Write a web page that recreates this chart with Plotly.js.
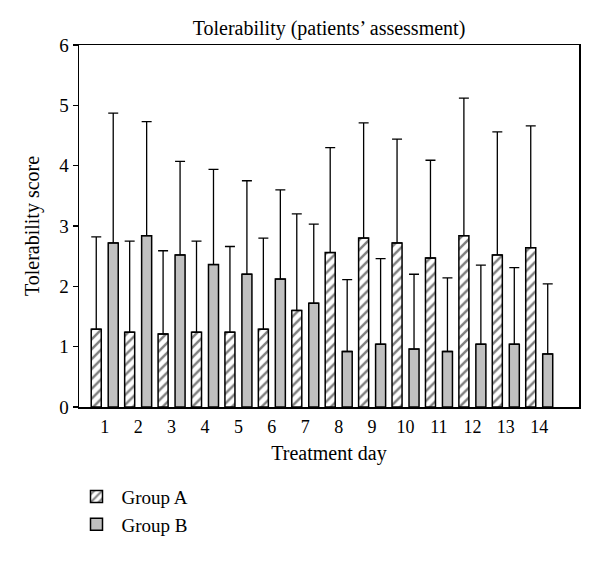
<!DOCTYPE html>
<html>
<head>
<meta charset="utf-8">
<script src="https://cdn.plot.ly/plotly-3.0.1.min.js"></script>
<style>html,body{margin:0;padding:0;background:#fff;}#chart{width:600px;height:563px;}</style>
</head>
<body>
<div id="chart"></div>
<script>
const days = [1,2,3,4,5,6,7,8,9,10,11,12,13,14];
const dayLabels = ["1","2","3","4","5","6","7","8","9","10","11","12","13","14"];
const groupAMean = [1.29,1.24,1.21,1.24,1.24,1.29,1.60,2.56,2.80,2.72,2.47,2.84,2.52,2.64];
const groupAUpper = [2.82,2.75,2.59,2.75,2.66,2.80,3.20,4.30,4.71,4.44,4.09,5.12,4.56,4.66];
const groupBMean = [2.72,2.84,2.52,2.36,2.20,2.12,1.72,0.92,1.04,0.96,0.92,1.04,1.04,0.88];
const groupBUpper = [4.87,4.73,4.07,3.94,3.75,3.60,3.03,2.11,2.46,2.20,2.14,2.35,2.31,2.04];

const sdA = groupAMean.map((m,i)=>+(groupAUpper[i]-m).toFixed(2));
const sdB = groupBMean.map((m,i)=>+(groupBUpper[i]-m).toFixed(2));
const zeros = days.map(()=>0);
const font = "Liberation Serif, Times New Roman, serif";

const errStyle = {color:'#000', thickness:1.3, width:5};

const traces = [
  {
    type:'bar', name:'Group A', x:days, y:groupAMean,
    width:0.3, offset:-0.404,
    marker:{color:'#fff', line:{color:'#000', width:1.5},
      pattern:{shape:'/', fgcolor:'#000', bgcolor:'#fff', size:7, solidity:0.35, fillmode:'overlay'}},
    error_y:Object.assign({type:'data', symmetric:false, array:sdA, arrayminus:zeros}, errStyle)
  },
  {
    type:'bar', name:'Group B', x:days, y:groupBMean,
    width:0.3, offset:0.104,
    marker:{color:'#c0c0c0', line:{color:'#000', width:1.5}},
    error_y:Object.assign({type:'data', symmetric:false, array:sdB, arrayminus:zeros}, errStyle)
  }
];

const layout = {
  width:600, height:563,
  margin:{l:79, r:21, t:45, b:156},
  paper_bgcolor:'#fff', plot_bgcolor:'#fff',
  font:{family:font, size:18, color:'#000'},
  title:{text:'Tolerability (patients\u2019 assessment)', font:{family:font, size:20, color:'#000'},
         x:0.5, xref:'paper', y:1, yref:'paper', yanchor:'bottom', pad:{b:10}},
  barmode:'overlay',
  showlegend:true,
  legend:{x:-0.015, xanchor:'left', y:-0.195, yanchor:'top', orientation:'v',
          font:{family:font, size:19, color:'#000'}, bgcolor:'rgba(0,0,0,0)', tracegroupgap:0, itemwidth:40},
  xaxis:{
    range:[0.23,15.19], tickvals:days, ticktext:dayLabels, ticks:'', showgrid:false, zeroline:false,
    showline:true, linecolor:'#000', linewidth:1.5, mirror:true,
    tickfont:{family:font, size:18, color:'#000'}, ticklabelstandoff:3,
    title:{text:'Treatment day', font:{family:font, size:20, color:'#000'}, standoff:10}
  },
  yaxis:{
    range:[0,6], dtick:1, tick0:0, ticks:'outside', ticklen:5, tickwidth:1.3, tickcolor:'#000',
    showgrid:false, zeroline:false, showline:true, linecolor:'#000', linewidth:1.5, mirror:true,
    tickfont:{family:font, size:19, color:'#000'},
    title:{text:'Tolerability score', font:{family:font, size:20, color:'#000'}, standoff:14}
  }
};

Plotly.newPlot('chart', traces, layout, {displayModeBar:false, staticPlot:true});
</script>
</body>
</html>
